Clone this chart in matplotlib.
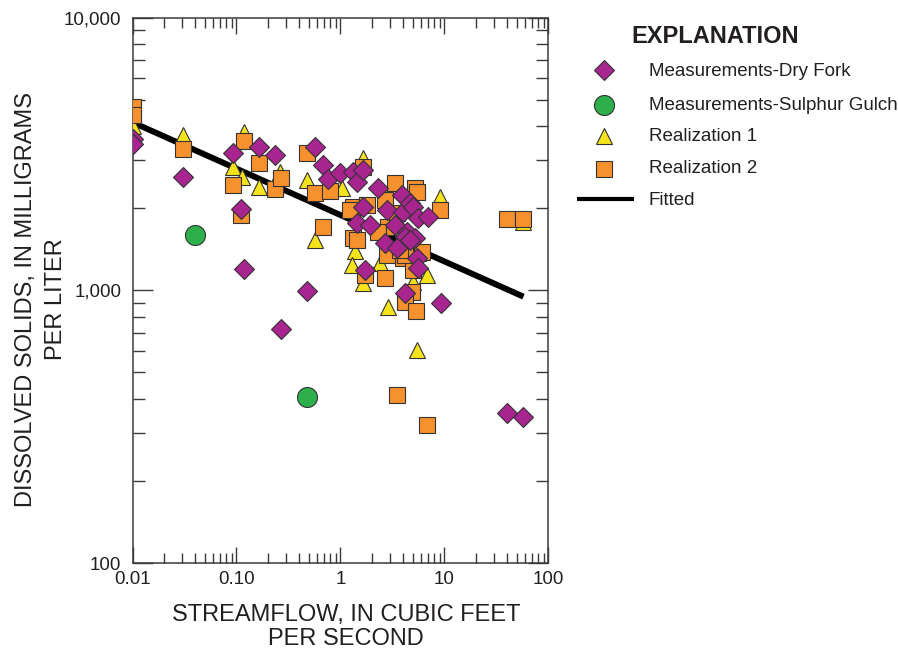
import matplotlib
matplotlib.use("Agg")
import matplotlib.pyplot as plt
from matplotlib.lines import Line2D
from matplotlib.ticker import LogLocator, NullFormatter

plt.rcParams['font.family'] = ['Liberation Sans', 'DejaVu Sans']

# ---------------- data ----------------
dry_x = [0.0100, 0.0100, 0.0304, 0.092, 0.110, 0.119, 0.163, 0.233, 0.267, 0.475,
         0.570, 0.677, 0.766, 0.993, 1.33, 1.44, 1.66, 2.32, 1.66, 1.44,
         1.93, 2.80, 3.90, 4.04, 4.69, 3.36, 2.69, 4.35, 5.24, 3.76,
         5.04, 5.63, 7.03, 4.20, 5.43, 3.49, 1.73, 5.63, 4.20, 9.25,
         40.0, 57.0, 4.69]
dry_y = [3580, 3430, 2600, 3200, 1990, 1195, 3350, 3140, 722, 995,
         3350, 2880, 2555, 2690, 2725, 2500, 2760, 2370, 2030, 1760,
         1740, 1970, 2240, 1945, 2090, 1740, 1490, 1640, 1550, 1467,
         2030, 1840, 1865, 1575, 1310, 1430, 1190, 1205, 976, 897,
         354, 342, 1530]

sg_x = [0.040, 0.475]
sg_y = [1592, 406]

r1_x = [0.0100, 0.0304, 0.119, 0.092, 0.1125, 0.163, 0.26, 0.475, 0.570, 1.03,
        1.64, 2.69, 1.38, 1.29, 1.66, 2.41, 6.79, 5.04, 2.90, 5.43,
        9.12, 57.0]
r1_y = [3990, 3715, 3820, 2840, 2610, 2400, 2725, 2540, 1530, 2370,
        3050, 2240, 1397, 1239, 1062, 1257, 1139, 1076, 871, 605,
        2206, 1780]

r2_x = [0.0100, 0.0100, 0.0304, 0.119, 0.163, 0.092, 0.110, 0.233, 0.267, 0.475,
        0.570, 0.796, 0.677, 1.66, 3.36, 5.24, 1.33, 1.79, 1.33, 2.90,
        2.32, 5.43, 9.12, 5.63, 4.04, 5.04, 1.44, 2.80, 4.20, 2.69,
        1.73, 4.87, 4.20, 5.37, 6.07, 40.0, 57.0, 3.49, 6.79, 1.24,
        3.49, 3.76, 2.69]
r2_y = [4690, 4400, 3290, 3530, 2920, 2435, 1890, 2350, 2575, 3180,
        2280, 2315, 1713, 2840, 2470, 2370, 2030, 2057, 1552, 1713,
        1642, 2300, 1972, 1368, 1311, 1190, 1530, 1349, 1349, 1108,
        1139, 989, 909, 841, 1387, 1823, 1823, 413, 321, 1972,
        1920, 1407, 2150]

fit_x = [0.0108, 57.7]
fit_y = [4080, 948]

x_ticks = [0.01, 0.1, 1, 10, 100]
x_tick_labels = ['0.01', '0.10', '1', '10', '100']
y_ticks = [100, 1000, 10000]
y_tick_labels = ['100', '1,000', '10,000']

legend_labels = ['Measurements-Dry Fork', 'Measurements-Sulphur Gulch',
                 'Realization 1', 'Realization 2', 'Fitted']

# ---------------- styles ----------------
C_DRY = '#A8248F'
C_SG = '#2DB04B'
C_R1 = '#F7E31C'
C_R2 = '#F6912E'
EDGE = '#333333'
AX = '#3a3a3a'
TXT = '#231f20'

W, H = 898, 653
fig = plt.figure(figsize=(W / 100, H / 100), dpi=100)
left, right, top, bottom = 132.5, 548.3, 17.7, 563.0
ax = fig.add_axes([left / W, 1 - bottom / H, (right - left) / W, (bottom - top) / H])
ax.set_xscale('log')
ax.set_yscale('log')

ax.plot(fit_x, fit_y, color='black', lw=4.3, solid_capstyle='butt', zorder=2)
ax.plot(r1_x, r1_y, ls='none', marker='^', ms=11.8, mfc=C_R1, mec=EDGE, mew=0.8, zorder=3)
ax.plot(r2_x, r2_y, ls='none', marker='s', ms=11.5, mfc=C_R2, mec=EDGE, mew=0.8, zorder=4)
ax.plot(dry_x, dry_y, ls='none', marker='D', ms=10.4, mfc=C_DRY, mec=EDGE, mew=0.8, zorder=5)
ax.plot(sg_x, sg_y, ls='none', marker='o', ms=14.4, mfc=C_SG, mec=EDGE, mew=0.8, zorder=6)

ax.set_xlim(0.01, 100)
ax.set_ylim(100, 10000)

ax.set_xticks(x_ticks, labels=x_tick_labels)
ax.set_yticks(y_ticks, labels=y_tick_labels)
ax.xaxis.set_minor_locator(LogLocator(base=10, subs=range(2, 10)))
ax.yaxis.set_minor_locator(LogLocator(base=10, subs=range(2, 10)))
ax.xaxis.set_minor_formatter(NullFormatter())
ax.yaxis.set_minor_formatter(NullFormatter())

ax.tick_params(axis='both', which='both', direction='in', top=True, right=True,
               color=AX, width=1.0, labelsize=13.5, labelcolor=TXT)
ax.tick_params(axis='x', which='major', length=11.5, pad=6)
ax.tick_params(axis='x', which='minor', length=7)
ax.tick_params(axis='y', which='major', length=14.4, pad=8)
ax.tick_params(axis='y', which='minor', length=8.6)
for s in ax.spines.values():
    s.set_color(AX)
    s.set_linewidth(1.1)

ax.set_xlabel('STREAMFLOW, IN CUBIC FEET\nPER SECOND', fontsize=17,
              color=TXT, linespacing=1.1)
ax.xaxis.set_label_coords(0.513, -0.075)
ax.set_ylabel('DISSOLVED SOLIDS, IN MILLIGRAMS\nPER LITER', fontsize=17,
              color=TXT, linespacing=1.45, va='bottom')
ax.yaxis.set_label_coords(-0.158, 0.484)

# ---------------- legend ("EXPLANATION") ----------------
def fx(px):
    return px / W

def fy(py):
    return 1 - py / H

fig.text(fx(631), fy(43.3), 'EXPLANATION', fontsize=17, fontweight='bold',
         color=TXT, va='baseline', ha='left')
handles = [
    dict(marker='D', ms=10.4, mfc=C_DRY),
    dict(marker='o', ms=14.4, mfc=C_SG),
    dict(marker='^', ms=11.8, mfc=C_R1),
    dict(marker='s', ms=11.5, mfc=C_R2),
]
marker_y = [70, 105, 135.5, 168.5]
text_base = [75.7, 110, 141, 173.3, 205]
for h, my in zip(handles, marker_y):
    fig.add_artist(Line2D([fx(604)], [fy(my)], ls='none', mec=EDGE, mew=0.8,
                          transform=fig.transFigure, **h))
fig.add_artist(Line2D([fx(577), fx(634)], [fy(199.3), fy(199.3)], color='black',
                      lw=3.0, solid_capstyle='butt', transform=fig.transFigure))
for lab, ty in zip(legend_labels, text_base):
    fig.text(fx(649), fy(ty), lab, fontsize=13.5, color=TXT,
             va='baseline', ha='left')

fig.savefig('out.png', dpi=100)
